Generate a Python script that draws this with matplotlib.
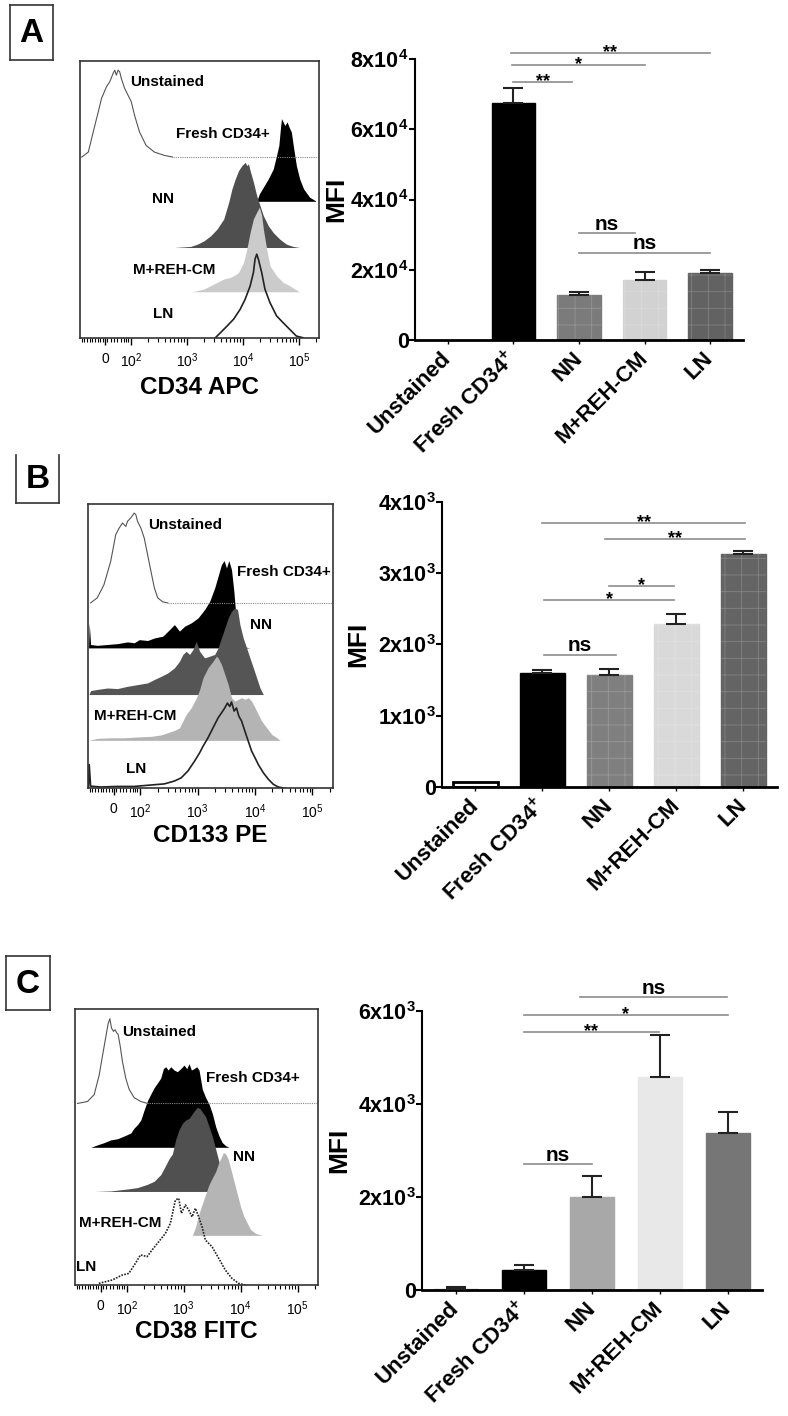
import numpy as np
import matplotlib
matplotlib.use('Agg')
import matplotlib.pyplot as plt
from matplotlib.transforms import ScaledTranslation

plt.rcParams['font.family'] = ['Liberation Sans', 'DejaVu Sans']
plt.rcParams['mathtext.fontset'] = 'custom'
plt.rcParams['mathtext.rm'] = 'Liberation Sans'
plt.rcParams['mathtext.bf'] = 'Liberation Sans:bold'
plt.rcParams['mathtext.it'] = 'Liberation Sans:italic'
plt.rcParams['mathtext.default'] = 'regular'
plt.rcParams['hatch.linewidth'] = 0.6

# ---------------- bar chart data ----------------
groups = ['Unstained', r'Fresh CD34$^{\mathbf{+}}$', 'NN', 'M+REH-CM', 'LN']

a_mfi = [0, 67600, 12800, 17100, 19200]
a_err = [0, 4100, 800, 2400, 600]
b_mfi = [75, 1605, 1565, 2285, 3275]
b_err = [0, 40, 90, 145, 40]
c_mfi = [20, 430, 1990, 4570, 3370]
c_err = [35, 110, 465, 915, 445]

# (group from, group to, height, label)
a_sig = [(0.96, 4.0, 81790, '**'), (0.98, 3.0, 78290, '*'), (1.0, 1.9, 73370, '**'),
         (2.0, 2.85, 30380, 'ns'), (2.0, 4.0, 24850, 'ns')]
b_sig = [(0.99, 4.03, 3701, '**'), (1.94, 4.03, 3476, '**'), (1.99, 2.96, 2825, '*'),
         (1.03, 2.96, 2620, '*'), (1.03, 2.09, 1853, 'ns')]
c_sig = [(1.83, 3.98, 6288, 'ns'), (1.0, 4.0, 5914, '*'), (1.0, 2.98, 5542, '**'),
         (1.0, 2.0, 2707, 'ns')]

# ---------------- histogram data (x in decades, height in % of plot) ----------------
a_unst_x = [1.121, 1.239, 1.327, 1.416, 1.475, 1.563, 1.622, 1.681, 1.711, 1.740, 1.770, 1.799, 1.829, 1.888, 1.947, 2.006, 2.065, 2.153, 2.271, 2.419, 2.596, 2.743]
a_unst_h = [0, 1.8, 9.1, 16.3, 21.2, 25.4, 27.2, 30.2, 31.4, 29.6, 31.4, 30.8, 28.4, 24.8, 22.4, 20.0, 15.1, 9.1, 4.2, 1.8, 0.6, 0]
a_fresh_x = [4.248, 4.295, 4.366, 4.454, 4.543, 4.602, 4.643, 4.673, 4.690, 4.720, 4.749, 4.791, 4.826, 4.867, 4.909, 4.956, 5.015, 5.085, 5.192, 5.298]
a_fresh_h = [0, 2.7, 5.1, 8.1, 11.7, 16.6, 20.2, 26.8, 29.9, 28.7, 27.4, 28.7, 26.8, 25.0, 19.0, 12.9, 8.1, 4.5, 1.5, 0.2]
a_nn_x = [2.773, 3.068, 3.186, 3.304, 3.422, 3.540, 3.658, 3.746, 3.805, 3.864, 3.923, 3.982, 4.012, 4.041, 4.071, 4.100, 4.130, 4.189, 4.248, 4.307, 4.366, 4.454, 4.543, 4.661, 4.779, 4.897, 5.015]
a_nn_h = [0, 0.4, 1.2, 2.4, 4.2, 6.7, 10.3, 16.3, 21.2, 24.8, 27.8, 29.6, 30.2, 30.8, 29.6, 30.2, 27.8, 23.6, 18.7, 15.1, 11.5, 7.9, 5.4, 3.0, 1.2, 0.4, 0]
a_mreh_x = [3.097, 3.304, 3.422, 3.540, 3.658, 3.776, 3.835, 3.923, 4.012, 4.071, 4.130, 4.189, 4.248, 4.295, 4.336, 4.366, 4.425, 4.484, 4.602, 4.720, 4.838, 4.926, 5.015]
a_mreh_h = [0, 1.0, 2.2, 3.4, 4.6, 5.2, 5.8, 7.0, 10.6, 15.5, 21.5, 26.4, 28.8, 30.6, 27.6, 22.7, 15.5, 9.4, 5.8, 3.4, 2.2, 1.0, 0]
a_ln_x = [3.510, 3.599, 3.717, 3.835, 3.953, 4.041, 4.130, 4.189, 4.218, 4.248, 4.277, 4.336, 4.395, 4.484, 4.602, 4.720, 4.838, 4.956, 5.074]
a_ln_h = [0, 1.8, 4.2, 6.7, 10.3, 13.9, 18.7, 23.6, 28.4, 30.2, 28.4, 23.6, 17.5, 12.7, 7.9, 5.4, 3.0, 0.6, 0]

b_unst_x = [1.135, 1.251, 1.368, 1.485, 1.573, 1.632, 1.690, 1.749, 1.778, 1.836, 1.895, 1.924, 1.953, 2.012, 2.070, 2.129, 2.187, 2.246, 2.304, 2.392, 2.480]
b_unst_h = [0, 1.8, 6.4, 14.6, 24.0, 26.3, 28.1, 26.9, 28.7, 29.9, 31.6, 31.0, 28.7, 26.3, 22.8, 16.9, 11.1, 5.3, 1.8, 0.4, 0]
b_fresh_x = [1.099, 1.111, 1.135, 1.251, 1.427, 1.602, 1.778, 1.895, 1.982, 2.129, 2.246, 2.392, 2.509, 2.596, 2.684, 2.772, 2.889, 3.006, 3.123, 3.211, 3.298, 3.357, 3.415, 3.462, 3.503, 3.544, 3.591, 3.632, 3.661, 3.696, 3.737, 3.912]
b_fresh_h = [0, 8.8, 1.2, 0.9, 1.2, 1.5, 2.1, 1.8, 2.9, 2.6, 3.5, 4.1, 6.4, 8.2, 5.9, 7.6, 8.8, 10.5, 13.5, 16.4, 21.1, 25.2, 29.3, 30.7, 28.1, 30.7, 27.5, 19.9, 12.9, 4.7, 0.6, 0]
b_nn_x = [1.105, 1.135, 1.251, 1.427, 1.602, 1.778, 1.953, 2.129, 2.246, 2.363, 2.480, 2.596, 2.684, 2.743, 2.801, 2.860, 2.918, 2.977, 3.035, 3.123, 3.211, 3.298, 3.357, 3.415, 3.474, 3.532, 3.591, 3.649, 3.696, 3.737, 3.795, 3.854, 3.912, 3.971, 4.029, 4.088, 4.146]
b_nn_h = [0, 1.4, 1.8, 2.3, 2.1, 2.9, 3.5, 4.1, 5.3, 6.4, 7.6, 9.4, 11.7, 14.1, 15.2, 14.1, 15.8, 18.7, 15.2, 12.9, 13.5, 14.1, 16.4, 19.9, 23.4, 26.9, 29.3, 30.4, 29.9, 24.6, 19.9, 16.4, 12.9, 9.4, 5.9, 2.3, 0]
b_mreh_x = [1.105, 1.251, 1.485, 1.719, 1.953, 2.187, 2.363, 2.480, 2.596, 2.684, 2.743, 2.801, 2.889, 2.977, 3.035, 3.094, 3.181, 3.269, 3.327, 3.357, 3.415, 3.474, 3.532, 3.591, 3.649, 3.708, 3.766, 3.825, 3.883, 3.942, 4.000, 4.058, 4.117, 4.205, 4.292, 4.380, 4.439]
b_mreh_h = [0, 0.7, 0.9, 0.9, 1.2, 1.4, 1.9, 2.7, 3.5, 4.4, 6.8, 9.1, 11.5, 14.9, 17.8, 22.0, 25.5, 27.8, 29.6, 29.0, 26.7, 23.2, 19.7, 15.0, 13.8, 14.4, 15.0, 14.4, 15.0, 13.8, 11.5, 9.1, 6.8, 4.4, 2.1, 0.9, 0]
b_ln_x = [1.099, 1.111, 1.135, 1.310, 1.602, 1.895, 2.187, 2.421, 2.596, 2.713, 2.830, 2.947, 3.035, 3.094, 3.181, 3.269, 3.357, 3.415, 3.474, 3.520, 3.561, 3.591, 3.637, 3.678, 3.719, 3.766, 3.825, 3.883, 3.942, 4.000, 4.058, 4.146, 4.234, 4.322, 4.409, 4.526]
b_ln_h = [0, 8.4, 0.8, 0.5, 0.7, 0.7, 1.2, 1.6, 2.6, 3.7, 6.1, 9.6, 12.5, 14.8, 17.8, 21.3, 24.8, 26.5, 28.3, 30.0, 28.8, 30.4, 27.2, 28.3, 25.4, 23.7, 20.1, 16.6, 13.1, 10.8, 8.4, 5.5, 3.2, 1.4, 0.5, 0]

c_unst_x = [1.135, 1.310, 1.427, 1.515, 1.573, 1.632, 1.672, 1.702, 1.731, 1.766, 1.795, 1.825, 1.848, 1.883, 1.924, 1.982, 2.041, 2.129, 2.246, 2.363]
c_unst_h = [0, 0.7, 3.2, 10.3, 17.3, 24.2, 28.9, 30.7, 27.3, 26.1, 26.7, 25.5, 25.0, 20.9, 15.1, 9.1, 5.1, 2.1, 0.7, 0]
c_fresh_x = [1.368, 1.485, 1.602, 1.719, 1.836, 1.953, 2.070, 2.129, 2.187, 2.246, 2.304, 2.363, 2.421, 2.480, 2.538, 2.596, 2.643, 2.684, 2.725, 2.772, 2.830, 2.889, 2.947, 3.006, 3.053, 3.094, 3.135, 3.181, 3.228, 3.269, 3.298, 3.327, 3.386, 3.444, 3.503, 3.561, 3.620, 3.678, 3.737, 3.795]
c_fresh_h = [0, 0.9, 1.7, 2.7, 3.1, 4.1, 5.2, 7.0, 8.2, 9.9, 13.5, 16.9, 19.3, 21.6, 23.3, 25.1, 28.5, 29.2, 28.0, 29.2, 28.0, 27.4, 28.5, 29.8, 28.5, 30.3, 28.0, 28.5, 29.2, 28.0, 24.5, 21.0, 18.0, 15.7, 12.2, 7.5, 4.1, 1.7, 0.6, 0]
c_nn_x = [1.427, 1.719, 2.012, 2.187, 2.363, 2.480, 2.596, 2.684, 2.743, 2.801, 2.860, 2.918, 2.977, 3.035, 3.094, 3.152, 3.193, 3.240, 3.287, 3.327, 3.386, 3.444, 3.503, 3.561, 3.620, 3.678, 3.737, 3.795]
c_nn_h = [0, 0.2, 0.9, 1.4, 2.6, 3.7, 6.1, 9.5, 11.9, 13.6, 18.9, 22.4, 24.7, 25.9, 26.5, 28.2, 29.4, 30.5, 30.0, 28.8, 27.1, 23.6, 20.0, 15.4, 10.7, 6.1, 2.0, 0]
c_mreh_x = [3.152, 3.211, 3.269, 3.327, 3.386, 3.444, 3.503, 3.561, 3.620, 3.661, 3.696, 3.737, 3.778, 3.825, 3.883, 3.942, 4.000, 4.058, 4.117, 4.175, 4.263, 4.380]
c_mreh_h = [0, 3.2, 7.9, 11.5, 14.9, 18.4, 20.8, 23.1, 26.6, 28.3, 30.0, 29.5, 27.8, 24.2, 19.6, 14.9, 10.3, 6.8, 4.4, 2.1, 0.7, 0]
c_ln_x = [1.509, 1.742, 1.918, 2.035, 2.152, 2.240, 2.357, 2.444, 2.561, 2.678, 2.766, 2.854, 2.912, 2.959, 3.029, 3.088, 3.146, 3.205, 3.263, 3.322, 3.380, 3.497, 3.614, 3.731, 3.848, 3.965, 4.082]
c_ln_h = [0.6, 1.8, 3.6, 4.2, 7.9, 10.9, 10.3, 12.7, 15.7, 18.7, 22.4, 30.8, 31.4, 26.0, 29.0, 27.2, 24.7, 27.8, 24.7, 21.1, 16.3, 13.9, 9.7, 5.4, 2.4, 0.6, 0]

hist_names = ['Unstained', 'Fresh CD34+', 'NN', 'M+REH-CM', 'LN']


fig = plt.figure(figsize=(7.88, 14.16), dpi=100)


def panel_letter(rect, letter, top=True):
    ax = fig.add_axes(rect)
    ax.set_xticks([])
    ax.set_yticks([])
    for s in ax.spines.values():
        s.set_linewidth(1.2)
        s.set_color('#333333')
    ax.spines['top'].set_visible(top)
    ax.text(0.5, 0.48, letter, ha='center', va='center', fontsize=24, fontweight='bold',
            transform=ax.transAxes)


def hist_panel(rect, curves, bases, fills, ln_style, label_pos, xlabel, xlabel_y):
    ax = fig.add_axes(rect)
    (ux, uh), (fx, fh), (nx, nh), (mx, mh), (lx, lh) = [(np.array(x), np.array(h)) for x, h in curves]
    ax.plot(ux, bases[0] + uh, color='#555555', lw=0.8)
    ax.plot([ux[-1], 5.5], [bases[0], bases[0]], color='#888888', lw=0.8, ls=(0, (1, 1)))
    ax.fill_between(fx, bases[1], bases[1] + fh, color=fills[0], lw=0)
    ax.fill_between(nx, bases[2], bases[2] + nh, color=fills[1], lw=0)
    ax.fill_between(mx, bases[3], bases[3] + mh, color=fills[2], lw=0)
    ax.plot(lx, bases[4] + lh, color='#222222', lw=1.2, ls=ln_style)

    for name, (tx, ty, ha) in zip(hist_names, label_pos):
        ax.text(tx, ty, name, ha=ha, va='center', fontsize=11, fontweight='bold')

    ax.set_xlim(1.09, 5.36)
    ax.set_ylim(0, 100)
    ax.set_yticks([])
    ax.set_xticks([1.54, 2, 3, 4, 5])
    ax.set_xticklabels(['0', '$10^2$', '$10^3$', '$10^4$', '$10^5$'])
    minor = list(np.linspace(1.12, 1.50, 9)) + [1.58, 1.64, 1.70, 1.76, 1.82, 1.87, 1.91, 1.95]
    for d in [2, 3, 4]:
        minor += list(d + np.log10(np.arange(2, 10)))
    minor.append(5.3)
    ax.set_xticks(minor, minor=True)
    ax.tick_params(axis='x', which='major', length=5, width=1, labelsize=10, pad=5)
    ax.tick_params(axis='x', which='minor', length=3, width=0.8)
    for s in ax.spines.values():
        s.set_linewidth(1.2)
        s.set_color('#333333')
    ax.text(0.5, xlabel_y, xlabel, transform=ax.transAxes, ha='center', va='center',
            fontsize=17.5, fontweight='bold')


def bar_panel(rect, means, errs, colors, edges, lws, ylim, yticks, ytlabels, sig, textured, ylab_x):
    ax = fig.add_axes(rect)
    x = np.arange(len(groups))
    means = np.array(means, dtype=float)
    errs = np.array(errs, dtype=float)
    ax.bar(x, means, 0.66, color=colors, edgecolor=edges, linewidth=lws, zorder=2)
    if textured:
        ax.bar(x[2:], means[2:], 0.66, color='none', edgecolor=(1, 1, 1, 0.2), hatch='+',
               linewidth=0, zorder=2.5)
    m = errs > 0
    ax.errorbar(x[m], means[m], yerr=[np.zeros(m.sum()), errs[m]], fmt='none', ecolor='#222222',
                elinewidth=1.5, capsize=7.5, capthick=1.5, zorder=3)

    for x1, x2, y, txt in sig:
        ax.plot([x1, x2], [y, y], color='#8c8c8c', lw=1.2, clip_on=False)
        if txt == 'ns':
            ax.annotate(txt, xy=((x1 + x2) / 2, y), xytext=(0, 2.5), textcoords='offset points',
                        ha='center', va='baseline', fontsize=15, fontweight='bold',
                        annotation_clip=False)
        else:
            ax.annotate(txt, xy=((x1 + x2) / 2, y), xytext=(0, -3), textcoords='offset points',
                        ha='center', va='baseline', fontsize=13, fontweight='bold',
                        annotation_clip=False)

    ax.set_xlim(-0.5, 4.5)
    ax.set_ylim(*ylim)
    ax.set_yticks(yticks)
    ax.set_yticklabels(ytlabels)
    ax.set_xticks(x)
    ax.set_xticklabels(groups, rotation=45, ha='right', va='center', rotation_mode='anchor')
    for lab in ax.get_xticklabels():
        lab.set_fontweight('bold')
        lab.set_fontsize(16)
        lab.set_transform(lab.get_transform() + ScaledTranslation(6 / 72, 0, fig.dpi_scale_trans))
    for lab in ax.get_yticklabels():
        lab.set_fontweight('bold')
        lab.set_fontsize(15.5)
    ax.tick_params(axis='y', length=4, width=1.5, pad=0.5)
    ax.tick_params(axis='x', length=3, width=1, pad=8)
    ax.spines['top'].set_visible(False)
    ax.spines['right'].set_visible(False)
    ax.spines['left'].set_linewidth(1.5)
    ax.spines['bottom'].set_linewidth(2)
    ax.set_ylabel('MFI', fontsize=19, fontweight='bold')
    ax.yaxis.set_label_coords(ylab_x, 0.5)


# ---------------- panel A ----------------
panel_letter([0.0127, 0.9576, 0.0546, 0.0388], 'A')
hist_panel([0.1015, 0.7615, 0.3033, 0.1954],
           [(a_unst_x, a_unst_h), (a_fresh_x, a_fresh_h), (a_nn_x, a_nn_h),
            (a_mreh_x, a_mreh_h), (a_ln_x, a_ln_h)],
           [65.3, 49.3, 32.6, 16.6, 0], ['#000000', '#4f4f4f', '#cbcbcb'], '-',
           [(1.98, 92.5, 'left'), (2.80, 73.5, 'left'), (2.57, 50.2, 'center'),
            (2.78, 24.5, 'center'), (2.57, 8.5, 'center')],
           'CD34 APC', -0.18)
bar_panel([0.5266, 0.7599, 0.4162, 0.1984], a_mfi, a_err,
          ['white', '#000000', '#7b7b7b', '#d2d2d2', '#626262'],
          ['white', '#000000', '#7b7b7b', '#d2d2d2', '#626262'], [0, 1, 1, 1, 1],
          (0, 80000), [0, 20000, 40000, 60000, 80000],
          ['0', r'$\mathbf{2x10^4}$', r'$\mathbf{4x10^4}$', r'$\mathbf{6x10^4}$', r'$\mathbf{8x10^4}$'],
          a_sig, True, -0.204)

# ---------------- panel B ----------------
panel_letter([0.0203, 0.6448, 0.0546, 0.0339], 'B', top=False)
hist_panel([0.1117, 0.4432, 0.3109, 0.2009],
           [(b_unst_x, b_unst_h), (b_fresh_x, b_fresh_h), (b_nn_x, b_nn_h),
            (b_mreh_x, b_mreh_h), (b_ln_x, b_ln_h)],
           [65.2, 49.4, 33.0, 16.9, 0], ['#000000', '#555555', '#b4b4b4'], '-',
           [(2.13, 92.7, 'left'), (3.68, 76.1, 'left'), (4.10, 57.6, 'center'),
            (1.91, 25.4, 'center'), (1.93, 6.7, 'center')],
           'CD133 PE', -0.167)
bar_panel([0.5609, 0.4442, 0.4251, 0.2013], b_mfi, b_err,
          ['white', '#000000', '#7f7f7f', '#d9d9d9', '#646464'],
          ['#000000', '#000000', '#7f7f7f', '#d9d9d9', '#646464'], [2, 1, 1, 1, 1],
          (0, 4000), [0, 1000, 2000, 3000, 4000],
          ['0', r'$\mathbf{1x10^3}$', r'$\mathbf{2x10^3}$', r'$\mathbf{3x10^3}$', r'$\mathbf{4x10^3}$'],
          b_sig, True, -0.215)

# ---------------- panel C ----------------
panel_letter([0.0076, 0.2867, 0.0558, 0.0381], 'C')
hist_panel([0.0952, 0.0925, 0.3084, 0.1949],
           [(c_unst_x, c_unst_h), (c_fresh_x, c_fresh_h), (c_nn_x, c_nn_h),
            (c_mreh_x, c_mreh_h), (c_ln_x, c_ln_h)],
           [65.8, 49.9, 33.9, 18.0, 0], ['#000000', '#505050', '#b5b5b5'], (0, (1, 0.8)),
           [(1.91, 91.8, 'left'), (3.39, 74.9, 'left'), (4.06, 46.4, 'center'),
            (1.89, 22.5, 'center'), (1.28, 6.6, 'center')],
           'CD38 FITC', -0.168)
bar_panel([0.5355, 0.0890, 0.4315, 0.1972], c_mfi, c_err,
          ['white', '#000000', '#a8a8a8', '#e8e8e8', '#767676'],
          ['#aaaaaa', '#000000', '#a8a8a8', '#e8e8e8', '#767676'], [1, 1, 1, 1, 1],
          (0, 6000), [0, 2000, 4000, 6000],
          ['0', r'$\mathbf{2x10^3}$', r'$\mathbf{4x10^3}$', r'$\mathbf{6x10^3}$'],
          c_sig, False, -0.207)

fig.savefig('out.png', dpi=100)
